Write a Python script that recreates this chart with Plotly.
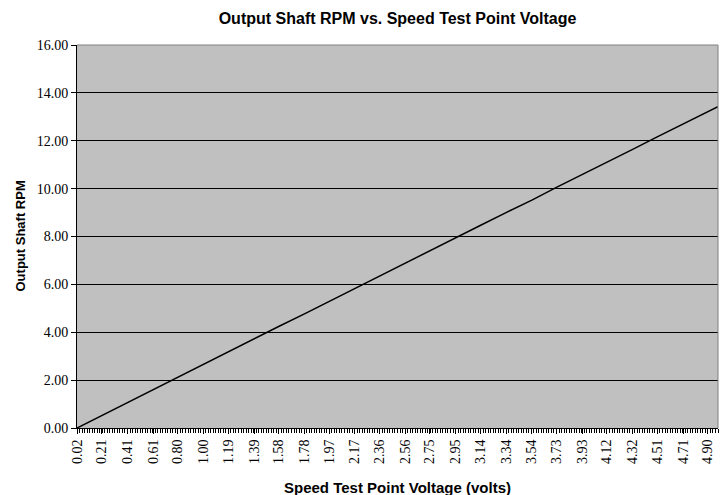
import plotly.graph_objects as go

# Data (voltage in volts, output shaft RPM)
voltage = [0.02, 0.21, 0.41, 0.61, 0.80, 1.00, 1.19, 1.39, 1.58, 1.78, 1.97, 2.17, 2.36,
           2.56, 2.75, 2.95, 3.14, 3.34, 3.54, 3.73, 3.93, 4.12, 4.32, 4.51, 4.71, 4.90, 4.98]
rpm = [0.00, 0.52, 1.06, 1.61, 2.13, 2.66, 3.18, 3.72, 4.24, 4.77, 5.29, 5.83, 6.35,
       6.88, 7.40, 7.94, 8.46, 9.00, 9.52, 10.05, 10.58, 11.11, 11.64, 12.16, 12.69, 13.21, 13.42]

x_tick_labels = ["0.02", "0.21", "0.41", "0.61", "0.80", "1.00", "1.19", "1.39", "1.58",
                 "1.78", "1.97", "2.17", "2.36", "2.56", "2.75", "2.95", "3.14", "3.34",
                 "3.54", "3.73", "3.93", "4.12", "4.32", "4.51", "4.71", "4.90"]
x_tick_values = [float(v) for v in x_tick_labels]
category_step = 5 / 256
y_ticks = [0, 2, 4, 6, 8, 10, 12, 14, 16]

fig = go.Figure()
fig.add_trace(go.Scatter(x=voltage, y=rpm, mode="lines",
                         line=dict(color="black", width=1.5), showlegend=False,
                         hoverinfo="skip"))

serif = "Liberation Serif, Times New Roman, serif"
sans = "Liberation Sans, Arial, sans-serif"

# the page body adds an 8px offset, so the figure is laid out 8px up/left
W, H = 720, 487
L, R, T, B = 69, 10, 37, 67
plot_w, plot_h = W - L - R, H - T - B

fig.update_layout(
    width=W, height=H,
    paper_bgcolor="white", plot_bgcolor="#C0C0C0",
    margin=dict(l=L, r=R, t=T, b=B),
    title=dict(text="<b>Output Shaft RPM vs. Speed Test Point Voltage</b>",
               x=(L + plot_w / 2) / W, xanchor="center", y=1 - 10 / H, yanchor="middle",
               font=dict(family=sans, size=16, color="black")),
    xaxis=dict(
        range=[category_step, 255 * category_step],
        tickmode="array", tickvals=x_tick_values, ticktext=x_tick_labels,
        tickangle=-90, ticks="outside", ticklen=5, tickcolor="black",
        tickfont=dict(family=serif, size=14, color="black"),
        showgrid=False, zeroline=False, automargin=False,
        showline=True, linecolor="black", linewidth=1,
        minor=dict(tickmode="linear", tick0=category_step, dtick=category_step,
                   ticks="outside", ticklen=4, tickcolor="black", showgrid=False),
    ),
    yaxis=dict(
        range=[0, 16], tickmode="array", tickvals=y_ticks,
        ticktext=[f"{v:.2f}" for v in y_ticks],
        ticks="outside", ticklen=5, tickcolor="black",
        tickfont=dict(family=serif, size=14, color="black"),
        showgrid=True, gridcolor="black", gridwidth=1, zeroline=False, automargin=False,
        showline=True, linecolor="black", linewidth=1,
    ),
    annotations=[
        dict(text="<b>Speed Test Point Voltage (volts)</b>", xref="paper", yref="paper",
             x=0.5, y=-(479 - (H - B)) / plot_h, xanchor="center", yanchor="middle",
             showarrow=False, font=dict(family=sans, size=15, color="black")),
        dict(text="<b>Output Shaft RPM</b>", xref="paper", yref="paper",
             x=-(L - 12) / plot_w, y=0.5, xanchor="center", yanchor="middle",
             textangle=-90, showarrow=False,
             font=dict(family=sans, size=13, color="black")),
    ],
)

# gray plot-area border on top and right
fig.add_shape(type="line", xref="paper", yref="paper", x0=0, x1=1, y0=1, y1=1,
              line=dict(color="#808080", width=1), layer="above")
fig.add_shape(type="line", xref="paper", yref="paper", x0=1, x1=1, y0=0, y1=1,
              line=dict(color="#808080", width=1), layer="above")

fig.write_html("out.html")
